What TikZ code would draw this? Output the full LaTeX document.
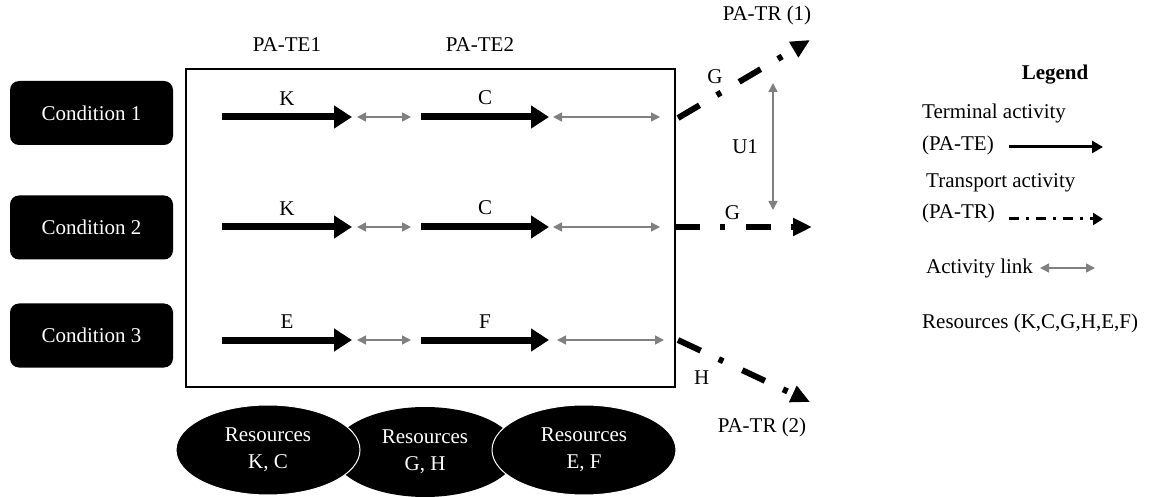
\documentclass[tikz,border=0pt]{standalone}
\usepackage{fontspec}
\setmainfont{Liberation Serif}
\usepackage{xcolor}
\usetikzlibrary{arrows.meta,shapes.geometric}

\begin{document}
\begin{tikzpicture}[x=1pt,y=-1pt,font=\fontsize{21}{27}\selectfont]
    \useasboundingbox (0,0) rectangle (1152,497);
    % conditions
    \begin{scope}[every node/.style={rectangle,rounded corners=9pt,fill=black,text=white,minimum width=163pt,minimum height=64pt}]
        \node (c1) at (91.5,113) {Condition 1};
        \node (c2) at (91.5,227.5) {Condition 2};
        \node (c3) at (91.5,335.5) {Condition 3};
    \end{scope}
    \draw[line width=2.5pt] (186,69) rectangle (675,387);
    \node (te1) at (287,45) {PA-TE1};
    \node (te2) at (480,45) {PA-TE2};
    \node (tr1) at (767,15) {PA-TR (1)};
    \node (tr2) at (762,427) {PA-TR (2)};
    % arrow ends
    \coordinate (a1) at (222,117); \coordinate (b1) at (352,117); \coordinate (c1s) at (421,117); \coordinate (d1) at (549,117);
    \coordinate (a2) at (222,227); \coordinate (b2) at (352,227); \coordinate (c2s) at (421,227); \coordinate (d2) at (549,227);
    \coordinate (a3) at (222,340); \coordinate (b3) at (352,340); \coordinate (c3s) at (421,340); \coordinate (d3) at (549,340);
    \coordinate (l1a) at (357,117); \coordinate (l1b) at (411,117); \coordinate (m1a) at (553,117); \coordinate (m1b) at (660,117);
    \coordinate (l2a) at (357,227); \coordinate (l2b) at (411,227); \coordinate (m2a) at (553,227); \coordinate (m2b) at (660,227);
    \coordinate (l3a) at (357,340); \coordinate (l3b) at (411,340); \coordinate (m3a) at (557,340); \coordinate (m3b) at (664,340);
    \coordinate (t1s) at (678,118); \coordinate (t1e) at (810,40);
    \coordinate (t2s) at (675,227); \coordinate (t2e) at (812,227);
    \coordinate (t3s) at (678,340); \coordinate (t3e) at (810,402);
    \coordinate (u1a) at (773,83); \coordinate (u1b) at (773,210);
    % terminal activities
    \begin{scope}[every edge/.style={draw,line width=7pt,-{Triangle[length=18pt,width=22pt]}}]
        \path (a1) edge node[above=5pt] {K} (b1);
        \path (a2) edge node[above=5pt] {K} (b2);
        \path (a3) edge node[above=5pt] {E} (b3);
        \path (c1s) edge node[above=5pt] {C} (d1);
        \path (c2s) edge node[above=5pt] {C} (d2);
        \path (c3s) edge node[above=5pt] {F} (d3);
    \end{scope}
    % activity links
    \begin{scope}[every edge/.style={draw=gray,line width=1.5pt,{Triangle[length=9pt,width=9pt]}-{Triangle[length=9pt,width=9pt]}}]
        \path (l1a) edge (l1b);
        \path (l2a) edge (l2b);
        \path (l3a) edge (l3b);
        \path (m1a) edge (m1b);
        \path (m2a) edge (m2b);
        \path (m3a) edge (m3b);
        \path (u1a) edge node[left=11pt,text=black] {U1} (u1b);
    \end{scope}
    % transport activities
    \begin{scope}[every edge/.style={draw,line width=6pt,dash pattern=on 25pt off 20pt on 5pt off 21pt,-{Triangle[length=19pt,width=17pt]}}]
        \path (t1s) edge node[pos=0.28,above=6pt] {G} (t1e);
        \path (t2s) edge node[pos=0.42,above=1pt] {G} (t2e);
        \path (t3s) edge node[pos=0.18,below=13pt] {H} (t3e);
    \end{scope}
    % resources
    \begin{scope}[every node/.style={ellipse,fill=black,text=white,minimum width=184pt,minimum height=90pt,inner sep=0pt,align=center}]
        \node (r2) at (425,452) {Resources\\G, H};
        \node[draw=white,line width=1pt] (r1) at (268,450) {Resources\\K, C};
        \node[draw=white,line width=1pt] (r3) at (584,450) {Resources\\E, F};
    \end{scope}
    % legend
    \node[font=\fontsize{21}{27}\selectfont\bfseries] (leg) at (1055,75) {Legend};
    \begin{scope}[every node/.style={anchor=west,inner sep=1pt}]
        \node (lte) at (921,113) {Terminal activity};
        \node (lte2) at (921,145) {(PA-TE)};
        \node (ltr) at (925,183) {Transport activity};
        \node (ltr2) at (921,213) {(PA-TR)};
        \node (llk) at (925,268) {Activity link};
        \node (lrs) at (921,323) {Resources (K,C,G,H,E,F)};
    \end{scope}
    \coordinate (g1a) at (1009,147); \coordinate (g1b) at (1103,147);
    \coordinate (g2a) at (1009,219); \coordinate (g2b) at (1103,219);
    \coordinate (g3a) at (1040,268); \coordinate (g3b) at (1095,268);
    \path (g1a) edge[draw,line width=3pt,-{Triangle[length=11pt,width=12pt]}] (g1b);
    \path (g2a) edge[draw,line width=3pt,dash pattern=on 10pt off 7pt on 3pt off 7pt,-{Triangle[length=10pt,width=12pt]}] (g2b);
    \path (g3a) edge[draw=gray,line width=1.5pt,{Triangle[length=9pt,width=9pt]}-{Triangle[length=9pt,width=9pt]}] (g3b);
\end{tikzpicture}
\end{document}
